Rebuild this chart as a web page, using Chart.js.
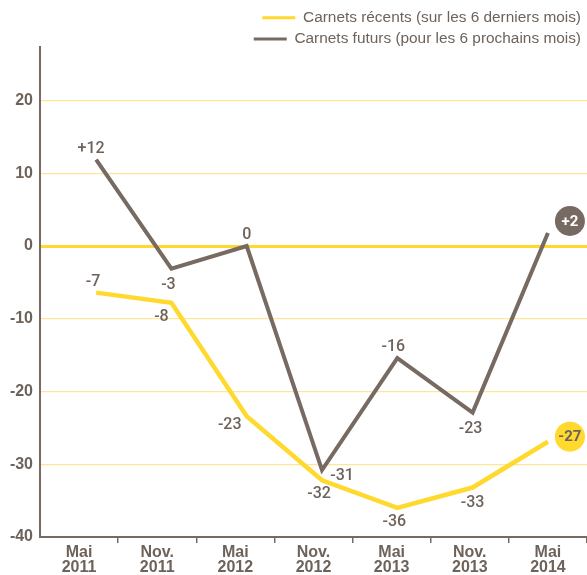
<!DOCTYPE html>
<html lang="fr">
<head>
<meta charset="utf-8">
<title>Carnets de commandes</title>
<script src="https://cdn.jsdelivr.net/npm/chart.js@4.4.1/dist/chart.umd.min.js"></script>
<style>
    html, body { margin: 0; padding: 0; background: #ffffff; }
    #wrap { width: 587px; height: 575px; }
</style>
</head>
<body>
<div id="wrap"><canvas id="carnetsChart" width="587" height="575"></canvas></div>
<script>
// Survey dates (x axis)
const categories = [
    ['Mai', '2011'], ['Nov.', '2011'], ['Mai', '2012'], ['Nov.', '2012'],
    ['Mai', '2013'], ['Nov.', '2013'], ['Mai', '2014']
];

// Series values
const recentValues = [-6.4, -7.8, -23.4, -32.2, -36, -33.2, -26.9];
const futureValues = [11.9, -3.1, 0, -30.8, -15.4, -22.9, 1.8];

// Printed point labels
const recentLabels = ['-7', '-8', '-23', '-32', '-36', '-33', '-27'];
const futureLabels = ['+12', '-3', '0', '-31', '-16', '-23', '+2'];

// Y axis ticks
const yTicks = [20, 10, 0, -10, -20, -30, -40];

const YELLOW = '#FFD92E';
const BROWN = '#766A62';
const TEXT = '#6E635B';
const GRID = '#FDE59A';
const FONT = "'Liberation Sans', Arial, sans-serif";
const LABEL_FONT = "Roboto, 'Liberation Sans', Arial, sans-serif";

// label placement relative to each point (dx, dy)
const labelOffsets = [
    [[-3, -12], [-10, 13], [-17, 8], [-3, 13], [-3, 13], [0, 14], [22, -5]],
    [[-5, -12], [-3, 15], [0, -12], [20, 5], [-4, -12], [-2, 15], [22, -12]]
];
const labelTexts = [recentLabels, futureLabels];
const bubbleStyles = [
    { fill: YELLOW, text: TEXT },
    { fill: BROWN, text: '#ffffff' }
];

// draws the value next to each point, last one inside a bubble
const pointLabels = {
    id: 'pointLabels',
    afterInit(chart) {
        // legend takes less vertical room than chart.js gives it
        const legend = chart.legend;
        const fit = legend.fit;
        legend.fit = function () {
            fit.call(this);
            this.height -= 10;
        };
    },
    afterDatasetsDraw(chart) {
        const ctx = chart.ctx;
        ctx.save();
        ctx.textAlign = 'center';
        ctx.textBaseline = 'middle';
        chart.data.datasets.forEach((ds, d) => {
            const meta = chart.getDatasetMeta(d);
            const last = meta.data.length - 1;
            meta.data.forEach((pt, i) => {
                const x = pt.x + labelOffsets[d][i][0];
                const y = pt.y + labelOffsets[d][i][1];
                if (i === last) {
                    ctx.beginPath();
                    ctx.arc(x, y, 15, 0, Math.PI * 2);
                    ctx.fillStyle = bubbleStyles[d].fill;
                    ctx.fill();
                    ctx.fillStyle = bubbleStyles[d].text;
                    ctx.font = 'bold 15px ' + LABEL_FONT;
                } else {
                    ctx.fillStyle = TEXT;
                    ctx.font = '500 16px ' + LABEL_FONT;
                }
                ctx.fillText(labelTexts[d][i], x, y + 1);
            });
        });
        ctx.restore();
    }
};

const toPoints = values => values.map((v, i) => ({ x: i, y: v }));

new Chart(document.getElementById('carnetsChart'), {
    type: 'line',
    data: {
        labels: categories,
        datasets: [
            {
                label: 'Carnets récents (sur les 6 derniers mois)',
                data: toPoints(recentValues),
                borderColor: YELLOW,
                backgroundColor: YELLOW,
                borderWidth: 4.5,
                pointRadius: 0,
                tension: 0,
                xAxisID: 'xd'
            },
            {
                label: 'Carnets futurs (pour les 6 prochains mois)',
                data: toPoints(futureValues),
                borderColor: BROWN,
                backgroundColor: BROWN,
                borderWidth: 4,
                pointRadius: 0,
                tension: 0,
                xAxisID: 'xd'
            }
        ]
    },
    options: {
        responsive: false,
        animation: false,
        layout: { padding: { top: 4, right: 0, bottom: 0, left: 0 } },
        plugins: {
            legend: {
                position: 'top',
                align: 'end',
                labels: {
                    boxWidth: 33,
                    boxHeight: 3,
                    padding: 6,
                    color: TEXT,
                    font: { family: FONT, size: 15.4 },
                    generateLabels: chart => Chart.defaults.plugins.legend.labels.generateLabels(chart)
                        .map(item => Object.assign(item, { lineWidth: 0 }))
                }
            },
            tooltip: { enabled: false }
        },
        scales: {
            x: {
                type: 'category',
                offset: true,
                afterFit: scale => { scale.height = 38; },
                grid: {
                    display: true,
                    offset: true,
                    drawOnChartArea: false,
                    drawTicks: true,
                    tickLength: 6,
                    lineWidth: 1.5,
                    color: c => c.index === 0 ? 'rgba(0,0,0,0)' : BROWN
                },
                border: { display: true, color: BROWN, width: 2 },
                ticks: {
                    color: TEXT,
                    padding: 2,
                    maxRotation: 0,
                    autoSkip: false,
                    font: { family: FONT, size: 16, weight: 'bold', lineHeight: 0.95 }
                }
            },
            xd: {
                type: 'linear',
                display: false,
                min: -0.745,
                max: 6.519
            },
            y: {
                min: -40,
                max: 27.4,
                afterBuildTicks: scale => { scale.ticks = yTicks.map(v => ({ value: v })); },
                afterFit: scale => { scale.width = 40; },
                grid: {
                    drawTicks: false,
                    color: c => c.tick && c.tick.value === 0 ? YELLOW : GRID,
                    lineWidth: c => c.tick && c.tick.value === 0 ? 3 : 1.2
                },
                border: { display: true, color: BROWN, width: 2 },
                ticks: {
                    color: TEXT,
                    padding: 7,
                    font: { family: FONT, size: 16, weight: 'bold' }
                }
            }
        }
    },
    plugins: [pointLabels]
});
</script>
</body>
</html>
